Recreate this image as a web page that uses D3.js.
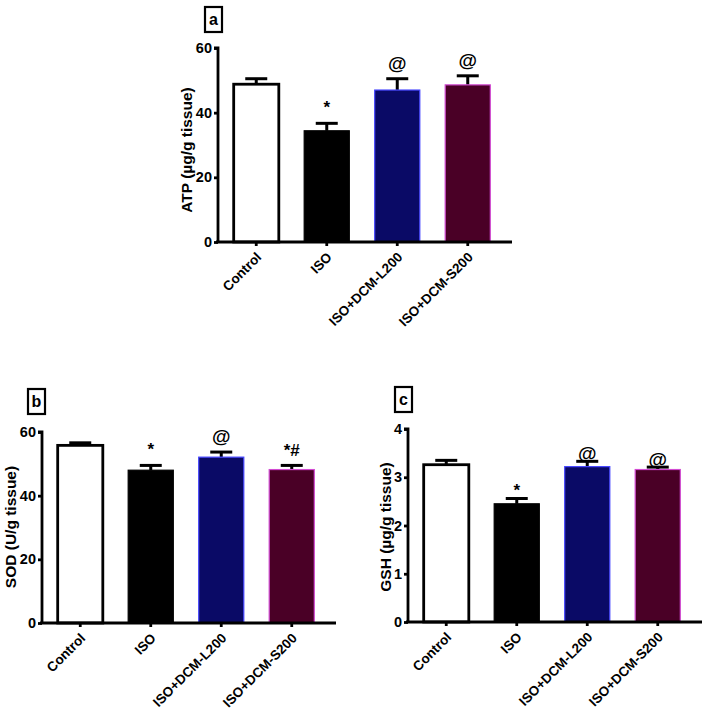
<!DOCTYPE html>
<html>
  <head>
    <script src="https://d3js.org/d3.v7.min.js"></script>
    <style>
      body { margin: 0; background: #fff; }
      text { font-family: "Liberation Sans", Arial, sans-serif; font-weight: bold; }
    </style>
  </head>
  <body>
    <svg width="708" height="717"></svg>
    <script>

      // data
      const groups = ["Control", "ISO", "ISO+DCM-L200", "ISO+DCM-S200"];
      const atpMean = [48.8, 34.4, 47.0, 48.6];
      const atpErr  = [1.7, 2.3, 3.5, 2.8];
      const sodMean = [55.8, 48.0, 52.1, 48.2];
      const sodErr  = [0.8, 1.5, 1.6, 1.3];
      const gshMean = [3.26, 2.45, 3.22, 3.16];
      const gshErr  = [0.09, 0.11, 0.11, 0.05];
      const atpMarks = ["", "*", "@", "@"];
      const sodMarks = ["", "*", "@", "*#"];
      const gshMarks = ["", "*", "@", "@"];
      const atpTicks = [0, 20, 40, 60];
      const sodTicks = [0, 20, 40, 60];
      const gshTicks = [0, 1, 2, 3, 4];

      const fills   = ["#ffffff", "#000000", "#0a0a66", "#4a0026"];
      const strokes = ["#000000", "#000000", "#4646ff", "#d24ad2"];

      const svg = d3.select("svg");

      function panel(o) {
        const g = svg.append("g");
        const y = d3.scaleLinear().domain([0, o.max]).range([o.bottom, o.top]);
        const x = d3.scaleBand().domain(groups)
            .range([o.left + 3, o.right - 9])
            .paddingInner(0.36).paddingOuter(0.18);

        const rows = groups.map((k, i) => ({k, i, m: o.mean[i], e: o.err[i], s: o.marks[i]}));

        // error bars (upper only)
        g.selectAll(".eb").data(rows).enter().append("line")
          .attr("x1", d => x(d.k) + x.bandwidth() / 2)
          .attr("x2", d => x(d.k) + x.bandwidth() / 2)
          .attr("y1", d => y(d.m)).attr("y2", d => y(d.m + d.e))
          .attr("stroke", "#000").attr("stroke-width", 3);
        g.selectAll(".cap").data(rows).enter().append("line")
          .attr("x1", d => x(d.k) + x.bandwidth() / 2 - 11)
          .attr("x2", d => x(d.k) + x.bandwidth() / 2 + 11)
          .attr("y1", d => y(d.m + d.e)).attr("y2", d => y(d.m + d.e))
          .attr("stroke", "#000").attr("stroke-width", 3);

        // bars
        g.selectAll(".bar").data(rows).enter().append("rect")
          .attr("x", d => x(d.k))
          .attr("y", d => y(d.m))
          .attr("width", x.bandwidth())
          .attr("height", d => o.bottom - y(d.m))
          .attr("fill", d => fills[d.i])
          .attr("stroke", d => strokes[d.i])
          .attr("stroke-width", d => d.i == 0 ? 2.8 : 1.2);

        // significance marks
        g.selectAll(".mk").data(rows).enter().append("text")
          .attr("x", d => x(d.k) + x.bandwidth() / 2)
          .attr("y", d => y(d.m + d.e) - (d.s == "*" ? o.gap + 1 : o.gap))
          .attr("text-anchor", "middle")
          .style("font-size", d => d.s == "@" ? "19px" : "17px")
          .text(d => d.s);

        // y axis
        const ya = g.append("g").attr("transform", `translate(${o.left},0)`)
          .call(d3.axisLeft(y).tickValues(o.ticks).tickSize(4).tickPadding(2).tickFormat(d3.format("d")));
        ya.selectAll("path, line").attr("stroke", "#000").attr("stroke-width", 2.8);
        ya.select("path").attr("d", `M-4,${o.top}H0V${o.bottom}`);
        ya.selectAll("text").style("font-size", "14.5px").attr("fill", "#000")
          .style("font-family", "Liberation Sans, Arial").style("font-weight", "bold");

        // x axis
        const xa = g.append("g").attr("transform", `translate(0,${o.bottom})`)
          .call(d3.axisBottom(x).tickSize(4).tickSizeOuter(0));
        xa.select("path").attr("d", `M${o.left - 2},0H${o.right}`);
        xa.selectAll("path, line").attr("stroke", "#000").attr("stroke-width", 2.8);
        xa.selectAll("text")
          .style("font-size", "13.5px").attr("fill", "#000")
          .style("font-family", "Liberation Sans, Arial").style("font-weight", "bold")
          .attr("text-anchor", "end")
          .attr("dy", 0).attr("y", 0)
          .attr("transform", "translate(6,16) rotate(-45)");

        // axis title
        g.append("text")
          .attr("transform", `translate(${o.titleX},${o.titleY}) rotate(-90)`)
          .attr("text-anchor", "middle")
          .style("font-size", "15.5px")
          .text(o.title);

        // panel letter box
        g.append("rect")
          .attr("x", o.box[0]).attr("y", o.box[1])
          .attr("width", 17).attr("height", 25)
          .attr("fill", "none").attr("stroke", "#000").attr("stroke-width", 2.2);
        g.append("text")
          .attr("x", o.box[0] + 8.5).attr("y", o.box[1] + 18)
          .attr("text-anchor", "middle")
          .style("font-size", "16px")
          .text(o.letter);
      }

      panel({mean: atpMean, err: atpErr, marks: atpMarks, ticks: atpTicks, max: 60,
             left: 218, right: 512, top: 48, bottom: 242, gap: 9,
             title: "ATP (\u00b5g/g tissue)", titleX: 192, titleY: 150,
             letter: "a", box: [205, 7]});
      panel({mean: sodMean, err: sodErr, marks: sodMarks, ticks: sodTicks, max: 60,
             left: 42, right: 336, top: 432, bottom: 623, gap: 9,
             title: "SOD (U/g tissue)", titleX: 16, titleY: 527,
             letter: "b", box: [28, 389]});
      panel({mean: gshMean, err: gshErr, marks: gshMarks, ticks: gshTicks, max: 4,
             left: 408, right: 702, top: 429, bottom: 622, gap: 1,
             title: "GSH (\u00b5g/g tissue)", titleX: 391, titleY: 527,
             letter: "c", box: [395, 387]});

    </script>
  </body>
</html>
